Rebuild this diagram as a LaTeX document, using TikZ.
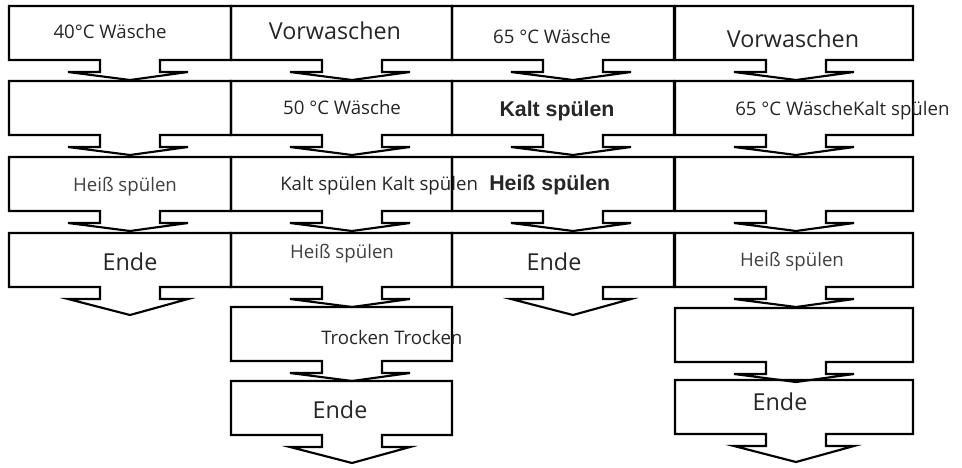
\documentclass[tikz,border=0pt]{standalone}
\usepackage{fontspec}
\setmainfont{Open Sans}
\newfontfamily\boldsans{Liberation Sans}
\usetikzlibrary{positioning}

% outline of one step: left, right, top, bottom, depth of the arrow tip
\newcommand{\stepbox}[5]{%
\draw [black,line width=1.6pt,line join=miter] (#1+91,#4) -- (#1,#4) -- (#1,#3) -- (#2,#3) -- (#2,#4)
  -- (#1+151,#4) -- (#1+151,#4+12) -- (#1+179,#4+12) -- (#1+121,#4+#5) -- (#1+59,#4+12)
  -- (#1+91,#4+12) -- cycle;}

\begin{document}
\begin{tikzpicture}[x=0.75pt,y=-0.75pt]
\tikzstyle{every node}+=[inner sep=0pt,text=black!85]
\tikzstyle{small}=[font=\fontsize{14}{16}\selectfont,text=black!75]
\tikzstyle{mid}=[font=\fontsize{14}{16}\selectfont]
\tikzstyle{big}=[font=\fontsize{17.5}{20}\selectfont]
\tikzstyle{heavy}=[font=\boldsans\bfseries\fontsize{16}{18}\selectfont]
\useasboundingbox (0,0) rectangle (962,467);
% column one
\stepbox{9}{231}{6}{60}{20}
\stepbox{9}{231}{81}{135}{20}
\stepbox{9}{231}{157}{211}{20}
\stepbox{9}{231}{233}{287}{28}
\node [mid] (a1) at (110,32) {40°C Wäsche};
\node [small] (a3) at (125,187) {Heiß spülen};
\node [big] (a4) at (130,262) {Ende};
% column two
\stepbox{231}{452}{6}{60}{20}
\stepbox{231}{452}{81}{135}{20}
\stepbox{231}{452}{157}{211}{20}
\stepbox{231}{452}{233}{287}{20}
\stepbox{231}{452}{307}{361}{20}
\stepbox{231}{452}{381}{435}{28}
\node [big] (b1) at (335,31) {Vorwaschen};
\node [mid] (b2) at (342,107) {50 °C Wäsche};
\node [mid,anchor=west] (b3) at (280,186) {Kalt spülen Kalt spülen};
\node [small] (b4) at (342,254) {Heiß spülen};
\node [mid,anchor=west] (b5) at (321,337) {Trocken Trocken};
\node [big] (b6) at (340,410) {Ende};
% column three
\stepbox{452}{674}{6}{60}{20}
\stepbox{452}{674}{81}{135}{20}
\stepbox{452}{674}{157}{211}{20}
\stepbox{452}{674}{233}{287}{28}
\node [mid] (c1) at (552,37) {65 °C Wäsche};
\node [heavy] (c2) at (557,111) {Kalt spülen};
\node [heavy,anchor=west] (c3) at (489,185) {Heiß spülen};
\node [big] (c4) at (554,262) {Ende};
% column four
\stepbox{675}{913}{6}{60}{20}
\stepbox{675}{913}{81}{135}{20}
\stepbox{675}{913}{157}{211}{20}
\stepbox{675}{913}{233}{287}{20}
\stepbox{675}{913}{308}{362}{20}
\stepbox{675}{913}{380}{434}{28}
\node [big] (d1) at (793,39) {Vorwaschen};
\node [mid,anchor=west] (d2) at (735,111) {65 °C WäscheKalt spülen};
\node [small] (d4) at (792,262) {Heiß spülen};
\node [big] (d6) at (780,402) {Ende};
\end{tikzpicture}
\end{document}
